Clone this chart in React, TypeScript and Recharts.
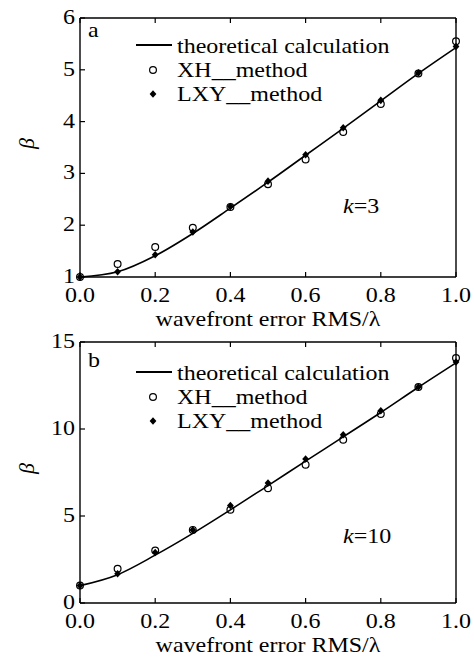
import React from "react";
import {
  ComposedChart,
  Line,
  Scatter,
  XAxis,
  YAxis,
  Legend,
} from "recharts";

const FONT = '"Liberation Serif", "Times New Roman", serif';
const SX = 1.2; // the scanned figure is a bit wider than tall

// wavefront error RMS / lambda
const rms = [0, 0.1, 0.2, 0.3, 0.4, 0.5, 0.6, 0.7, 0.8, 0.9, 1.0];

// k = 3
const theory3 = [1.0, 1.1, 1.41, 1.84, 2.33, 2.83, 3.35, 3.87, 4.4, 4.93, 5.43];
const xh3 = [1.0, 1.25, 1.58, 1.95, 2.35, 2.79, 3.27, 3.8, 4.34, 4.93, 5.55];
const lxy3 = [1.0, 1.1, 1.43, 1.87, 2.36, 2.85, 3.36, 3.88, 4.41, 4.94, 5.45];

// k = 10
const theory10 = [1.0, 1.63, 2.75, 4.0, 5.35, 6.75, 8.15, 9.55, 10.95, 12.4, 13.8];
const xh10 = [1.0, 1.97, 3.02, 4.2, 5.36, 6.6, 7.95, 9.38, 10.86, 12.41, 14.08];
const lxy10 = [1.0, 1.68, 2.9, 4.2, 5.6, 6.9, 8.28, 9.67, 11.05, 12.41, 13.85];

const xTicks = [0, 0.2, 0.4, 0.6, 0.8, 1.0];
const yTicks3 = [1, 2, 3, 4, 5, 6];
const yTicks10 = [0, 5, 10, 15];

const seriesNames = ["theoretical calculation", "XH__method", "LXY__method"];

function Txt({ x, y, anchor = "start", size = 20, children }: any) {
  return (
    <text
      transform={`translate(${x} ${y}) scale(${SX} 1)`}
      textAnchor={anchor}
      fontSize={size}
      fontFamily={FONT}
      fill="#000"
    >
      {children}
    </text>
  );
}

const BottomTick = ({ x, y, payload }: any) => (
  <g>
    <line x1={x} y1={y} x2={x} y2={y - 5} stroke="#000" strokeWidth={1.2} />
    <Txt x={x} y={y + 25} anchor="middle">
      {Number(payload.value).toFixed(1)}
    </Txt>
  </g>
);

const TopTick = ({ x, y }: any) => (
  <line x1={x} y1={y} x2={x} y2={y + 5} stroke="#000" strokeWidth={1.2} />
);

const LeftTick = ({ x, y, payload }: any) => (
  <g>
    <line x1={x} y1={y} x2={x + 5} y2={y} stroke="#000" strokeWidth={1.2} />
    <Txt x={x - 5} y={y + 6} anchor="end">
      {payload.value}
    </Txt>
  </g>
);

const RightTick = ({ x, y }: any) => (
  <line x1={x} y1={y} x2={x - 5} y2={y} stroke="#000" strokeWidth={1.2} />
);

const OpenCircle = ({ cx, cy }: any) => (
  <circle cx={cx} cy={cy} r={3.4} fill="none" stroke="#000" strokeWidth={1.2} />
);

const Diamond = ({ cx, cy }: any) => (
  <polygon
    points={`${cx},${cy - 3.8} ${cx + 3.4},${cy} ${cx},${cy + 3.8} ${cx - 3.4},${cy}`}
    fill="#000"
  />
);

function legendContent(top: number) {
  return () => (
    <svg width={474} height={110} style={{ display: "block" }}>
      <line x1={136} y1={top} x2={172} y2={top} stroke="#000" strokeWidth={1.8} />
      <Txt x={177} y={top + 8}>{seriesNames[0]}</Txt>
      <OpenCircle cx={153} cy={top + 25} />
      <Txt x={177} y={top + 32}>{seriesNames[1]}</Txt>
      <Diamond cx={153} cy={top + 49} />
      <Txt x={177} y={top + 56}>{seriesNames[2]}</Txt>
    </svg>
  );
}

function Panel({
  theory,
  xh,
  lxy,
  domain,
  yTicks,
  height,
  marginTop,
  marginBottom,
  legendTop,
  tag,
  tagY,
  k,
  kY,
}: any) {
  const data = rms.map((x, i) => ({
    x,
    theory: theory[i],
    xh: xh[i],
    lxy: lxy[i],
  }));
  return (
    <div style={{ position: "relative", width: 474, height }}>
      <ComposedChart
        width={474}
        height={height}
        data={data}
        margin={{ top: marginTop, right: 17, bottom: marginBottom, left: 20 }}
      >
        <XAxis
          dataKey="x"
          type="number"
          domain={[0, 1]}
          ticks={xTicks}
          height={50}
          tickSize={0}
          tickMargin={0}
          tick={<BottomTick />}
          tickLine={false}
          axisLine={{ stroke: "#000", strokeWidth: 1.4 }}
          label={(p: any) => {
            const vb = p.viewBox;
            return (
              <Txt x={vb.x + vb.width / 2} y={vb.y + 49} anchor="middle">
                wavefront error RMS/λ
              </Txt>
            );
          }}
        />
        <XAxis
          xAxisId="top"
          dataKey="x"
          type="number"
          orientation="top"
          domain={[0, 1]}
          ticks={xTicks}
          height={1}
          tickSize={0}
          tickMargin={0}
          tick={<TopTick />}
          tickLine={false}
          axisLine={{ stroke: "#000", strokeWidth: 1.4 }}
        />
        <YAxis
          type="number"
          domain={domain}
          ticks={yTicks}
          width={60}
          tickSize={0}
          tickMargin={0}
          tick={<LeftTick />}
          tickLine={false}
          axisLine={{ stroke: "#000", strokeWidth: 1.4 }}
          label={(p: any) => {
            const vb = p.viewBox;
            const cx = vb.x + 14;
            const cy = vb.y + vb.height / 2 - 4;
            return (
              <text
                transform={`translate(${cx} ${cy}) rotate(-90)`}
                textAnchor="middle"
                fontSize={22}
                fontStyle="italic"
                fontFamily={FONT}
                fill="#000"
              >
                β
              </text>
            );
          }}
        />
        <YAxis
          yAxisId="right"
          orientation="right"
          type="number"
          domain={domain}
          ticks={yTicks}
          width={1}
          tickSize={0}
          tickMargin={0}
          tick={<RightTick />}
          tickLine={false}
          axisLine={{ stroke: "#000", strokeWidth: 1.4 }}
        />
        <Legend
          layout="vertical"
          verticalAlign="middle"
          align="center"
          content={legendContent(legendTop)}
          wrapperStyle={{ left: 0, top: 0, width: 474, height: 110 }}
        />
        <Line
          dataKey="theory"
          name={seriesNames[0]}
          type="monotone"
          stroke="#000"
          strokeWidth={1.6}
          dot={false}
          isAnimationActive={false}
        />
        <Scatter
          dataKey="xh"
          name={seriesNames[1]}
          shape={<OpenCircle />}
          isAnimationActive={false}
        />
        <Scatter
          dataKey="lxy"
          name={seriesNames[2]}
          shape={<Diamond />}
          isAnimationActive={false}
        />
      </ComposedChart>
      <svg
        width={474}
        height={height}
        style={{ position: "absolute", left: 0, top: 0, pointerEvents: "none" }}
      >
        <Txt x={88} y={tagY}>{tag}</Txt>
        <text
          transform={`translate(343 ${kY}) scale(${SX} 1)`}
          fontSize={20}
          fontFamily={FONT}
          fill="#000"
        >
          <tspan fontStyle="italic">k</tspan>={k}
        </text>
      </svg>
    </div>
  );
}

export default function App() {
  return (
    <div
      style={{
        position: "absolute",
        left: 0,
        top: 0,
        width: 474,
        height: 657,
        background: "#fff",
      }}
    >
      <Panel
        theory={theory3}
        xh={xh3}
        lxy={lxy3}
        domain={[1, 6]}
        yTicks={yTicks3}
        height={330}
        marginTop={17}
        marginBottom={3}
        legendTop={45}
        tag="a"
        tagY={37}
        k={3}
        kY={213}
      />
      <Panel
        theory={theory10}
        xh={xh10}
        lxy={lxy10}
        domain={[0, 15]}
        yTicks={yTicks10}
        height={327}
        marginTop={11}
        marginBottom={4}
        legendTop={42}
        tag="b"
        tagY={37}
        k={10}
        kY={213}
      />
    </div>
  );
}
